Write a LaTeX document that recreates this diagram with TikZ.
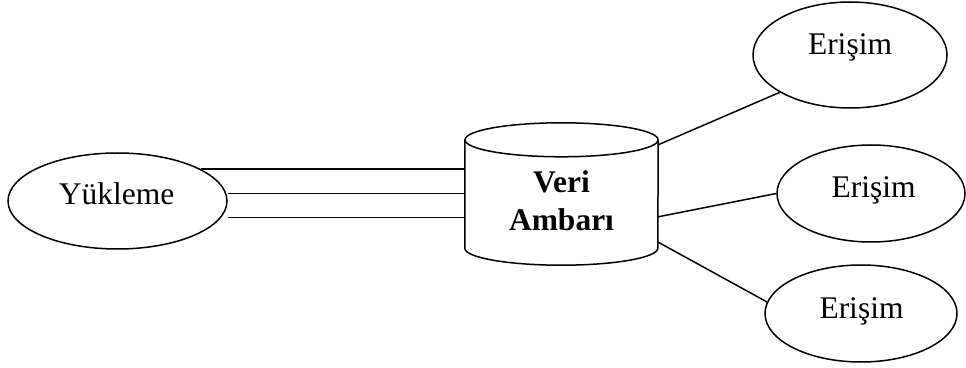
\documentclass[tikz,border=0pt]{standalone}
\usepackage{fontspec}
\setmainfont{Liberation Serif}
\usetikzlibrary{shapes.geometric}

\begin{document}
\begin{tikzpicture}[x=1pt,y=1pt,
    line/.style={line width=1.5pt, black},
    oval/.style={ellipse, draw, line width=1.5pt, inner sep=0pt},
    lbl/.style={font=\fontsize{31.5}{38}\selectfont, inner sep=0pt, anchor=base},
  ]
  \useasboundingbox (0,0) rectangle (966,367);

  % loading process on the left
  \node[oval, minimum width=219, minimum height=96] (yuk) at (117.5,166) {};
  \node[lbl] (yuktext) at (116.5,162) {Yükleme};

  % data warehouse cylinder
  \node[inner sep=0pt, minimum width=193, minimum height=108] (db) at (561.5,173) {};
  \draw[line] (db.north west) -- (db.south west)
    arc[start angle=180, end angle=360, x radius=96.5pt, y radius=17pt]
    -- (db.north east);
  \draw[line] (db.north) ellipse[x radius=96.5pt, y radius=17pt];
  \node[font=\fontsize{31.5}{38}\selectfont\bfseries, align=center, inner sep=0pt]
    (dbtext) at (561.5,166) {Veri\\Ambarı};

  % access processes on the right
  \node[oval, minimum width=194, minimum height=106] (acc1) at (850,312) {};
  \node[lbl] (acc1text) at (850,312) {Erişim};
  \node[oval, minimum width=188, minimum height=97] (acc2) at (871,173.5) {};
  \node[lbl] (acc2text) at (873.5,169) {Erişim};
  \node[oval, minimum width=192, minimum height=97] (acc3) at (861,53.5) {};
  \node[lbl] (acc3text) at (861.5,49) {Erişim};

  % loading links
  \draw[line] (yuk.21) -- (yuk.21 -| db.west);
  \draw[line] ([yshift=7.7pt]yuk.east) -- ([yshift=7.7pt]yuk.east -| db.west);
  \draw[line] ([yshift=-16.7pt]yuk.east) -- ([yshift=-16.7pt]yuk.east -| db.west);

  % access links
  \draw[line] ([yshift=-5pt]db.north east) -- (acc1.208);
  \draw[line] ([yshift=-77pt]db.north east) -- (acc2.west);
  \draw[line] ([yshift=6pt]db.south east) -- (acc3.173);
\end{tikzpicture}
\end{document}
